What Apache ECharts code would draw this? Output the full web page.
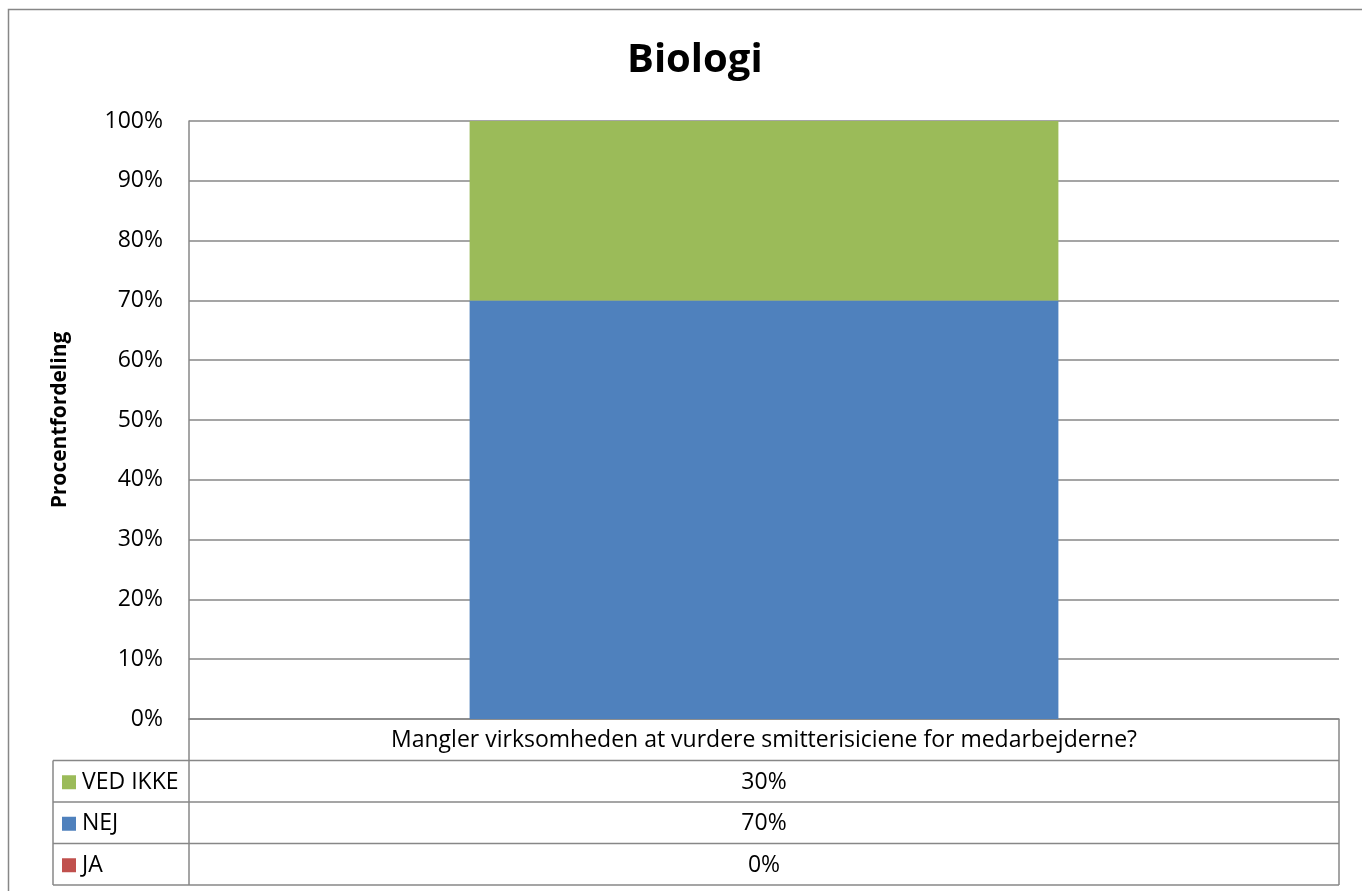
<!DOCTYPE html>
<html>
<head>
<meta charset="utf-8">
<title>Biologi</title>
<script src="https://cdn.jsdelivr.net/npm/echarts@6/dist/echarts.min.js"></script>
<style>
  html, body { margin: 0; padding: 0; background: #fff; }
  #chart { width: 1362px; height: 891px; }
</style>
</head>
<body>
<div id="chart"></div>
<script>
var categories = ['Mangler virksomheden at vurdere smitterisiciene for medarbejderne?'];
var jaValues = [0];
var nejValues = [70];
var vedIkkeValues = [30];
// table rows, top to bottom
var tableRows = [
    { name: 'VED IKKE', values: vedIkkeValues, color: '#9BBB59' },
    { name: 'NEJ', values: nejValues, color: '#4F81BD' },
    { name: 'JA', values: jaValues, color: '#C0504D' }
];

var font = 'Open Sans';
var textSize = 23;
var lineColor = '#878787';

// plot area / table geometry (pixels)
var plotLeft = 189, plotRight = 1339, plotTop = 121, plotBottom = 719;
var rowH = 41.5;
var keyLeft = 53;

var myChart = echarts.init(document.getElementById('chart'));

var cellFont = textSize + 'px "' + font + '"';
var graphics = [
    // outer chart border
    { type: 'rect', shape: { x: 8.5, y: 9.5, width: 1400, height: 1000 },
      style: { fill: 'none', stroke: lineColor, lineWidth: 1.5 }, silent: true },
    { type: 'line', shape: { x1: plotRight, y1: plotBottom, x2: plotRight, y2: plotBottom + rowH * 4 },
      style: { stroke: lineColor, lineWidth: 1.5 } },
    { type: 'line', shape: { x1: plotLeft, y1: plotBottom, x2: plotLeft, y2: plotBottom + rowH * 4 },
      style: { stroke: lineColor, lineWidth: 1.5 } },
    { type: 'line', shape: { x1: keyLeft, y1: plotBottom + rowH, x2: keyLeft, y2: plotBottom + rowH * 4 },
      style: { stroke: lineColor, lineWidth: 1.5 } },
    { type: 'text', x: (plotLeft + plotRight) / 2, y: plotBottom + rowH / 2 + 1,
      style: { text: categories[0], font: cellFont, fill: '#000',
               textAlign: 'center', textVerticalAlign: 'middle' } }
];

tableRows.forEach(function (row, i) {
    var y0 = plotBottom + rowH * (i + 1);
    graphics.push({ type: 'line', shape: { x1: keyLeft, y1: y0, x2: plotRight, y2: y0 },
                    style: { stroke: lineColor, lineWidth: 1.5 } });
    graphics.push({ type: 'rect', shape: { x: 62, y: y0 + rowH / 2 - 6, width: 14, height: 14 },
                    style: { fill: row.color } });
    graphics.push({ type: 'text', x: 82, y: y0 + rowH / 2 + 1,
                    style: { text: row.name, font: cellFont, fill: '#000',
                             textAlign: 'left', textVerticalAlign: 'middle' } });
    graphics.push({ type: 'text', x: (plotLeft + plotRight) / 2, y: y0 + rowH / 2 + 1,
                    style: { text: row.values[0] + '%', font: cellFont, fill: '#000',
                             textAlign: 'center', textVerticalAlign: 'middle' } });
});
var yEnd = plotBottom + rowH * 4;
graphics.push({ type: 'line', shape: { x1: keyLeft, y1: yEnd, x2: plotRight, y2: yEnd },
                style: { stroke: lineColor, lineWidth: 1.5 } });

var option = {
    animation: false,
    backgroundColor: '#fff',
    title: {
        text: 'Biologi',
        left: 622,
        top: 36,
        textStyle: { fontFamily: font, fontSize: 40, fontWeight: 'bold', color: '#000' }
    },
    grid: {
        left: plotLeft,
        right: 1362 - plotRight,
        top: plotTop,
        bottom: 891 - plotBottom
    },
    xAxis: {
        type: 'category',
        data: categories,
        axisTick: { show: false },
        axisLabel: { show: false },
        axisLine: { lineStyle: { color: lineColor, width: 1.5 } }
    },
    yAxis: {
        type: 'value',
        min: 0,
        max: 100,
        interval: 10,
        name: 'Procentfordeling',
        nameLocation: 'middle',
        nameGap: 118,
        nameTextStyle: { fontFamily: font, fontSize: 21, fontWeight: 'bold', color: '#000' },
        axisLine: { show: true, lineStyle: { color: lineColor, width: 1.5 } },
        axisTick: { show: false },
        axisLabel: { formatter: '{value}%', margin: 26, fontFamily: font, fontSize: textSize, color: '#000' },
        splitLine: { lineStyle: { color: lineColor, width: 1.5 } }
    },
    series: [
        { name: 'JA', type: 'bar', stack: 'total', data: jaValues, barWidth: '51.2%',
          itemStyle: { color: '#C0504D' } },
        { name: 'NEJ', type: 'bar', stack: 'total', data: nejValues, barWidth: '51.2%',
          itemStyle: { color: '#4F81BD' } },
        { name: 'VED IKKE', type: 'bar', stack: 'total', data: vedIkkeValues, barWidth: '51.2%',
          itemStyle: { color: '#9BBB59' } }
    ],
    graphic: graphics
};

myChart.setOption(option);
</script>
</body>
</html>
